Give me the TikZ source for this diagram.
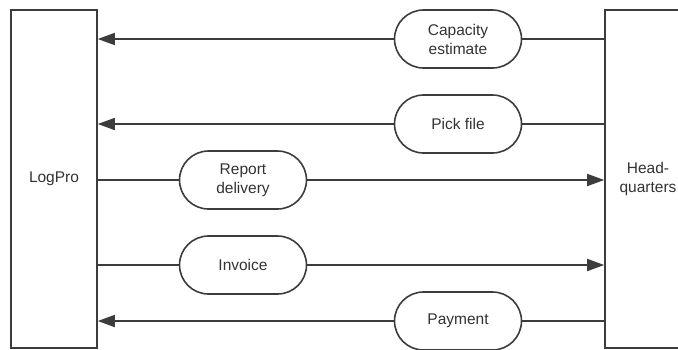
\documentclass[tikz,border=0pt]{standalone}
\usepackage{fontspec}
\setmainfont{Liberation Sans}
\usetikzlibrary{arrows.meta}
\definecolor{ink}{HTML}{3C3C3C}
\definecolor{txt}{HTML}{333333}
\begin{document}
\begin{tikzpicture}[x=1pt,y=-1pt,
  party/.style={draw=ink, line width=1.6pt, fill=white, minimum width=86pt,
    minimum height=338pt, inner sep=0pt, text=txt, align=center,
    font=\fontsize{15.5}{19}\selectfont},
  flow/.style={draw=ink, line width=1.6pt, fill=white, rectangle,
    rounded corners=29pt, minimum width=127pt, minimum height=58pt,
    inner sep=0pt, text=txt, align=center,
    font=\fontsize{15.5}{19}\selectfont},
  link/.style={draw=ink, line width=1.6pt},
  arr/.style={link, -{Triangle[length=17pt,width=12pt]}}]
  \useasboundingbox (0,0) rectangle (678,349);
  \fill[white] (0,0) rectangle (678,349);

  % the two parties
  \node[party] (lp) at (54,179) {LogPro};
  \node[party] (hq) at (648,179) {Head-\\quarters};

  % exchanged items
  \node[flow] (cap) at (458,39)  {Capacity\\estimate};
  \node[flow] (pick) at (458,124) {Pick file};
  \node[flow] (rep) at (243,180) {Report\\delivery};
  \node[flow] (inv) at (243,265) {Invoice};
  \node[flow] (pay) at (458,321) {Payment};

  % headquarters to LogPro
  \foreach \n in {cap,pick,pay}{
    \draw[link] (hq.west |- \n.east) -- (\n.east);
    \draw[arr] (\n.west) -- (lp.east |- \n.west);
  }
  % LogPro to headquarters
  \foreach \n in {rep,inv}{
    \draw[link] (lp.east |- \n.west) -- (\n.west);
    \draw[arr] (\n.east) -- (hq.west |- \n.east);
  }
\end{tikzpicture}
\end{document}
